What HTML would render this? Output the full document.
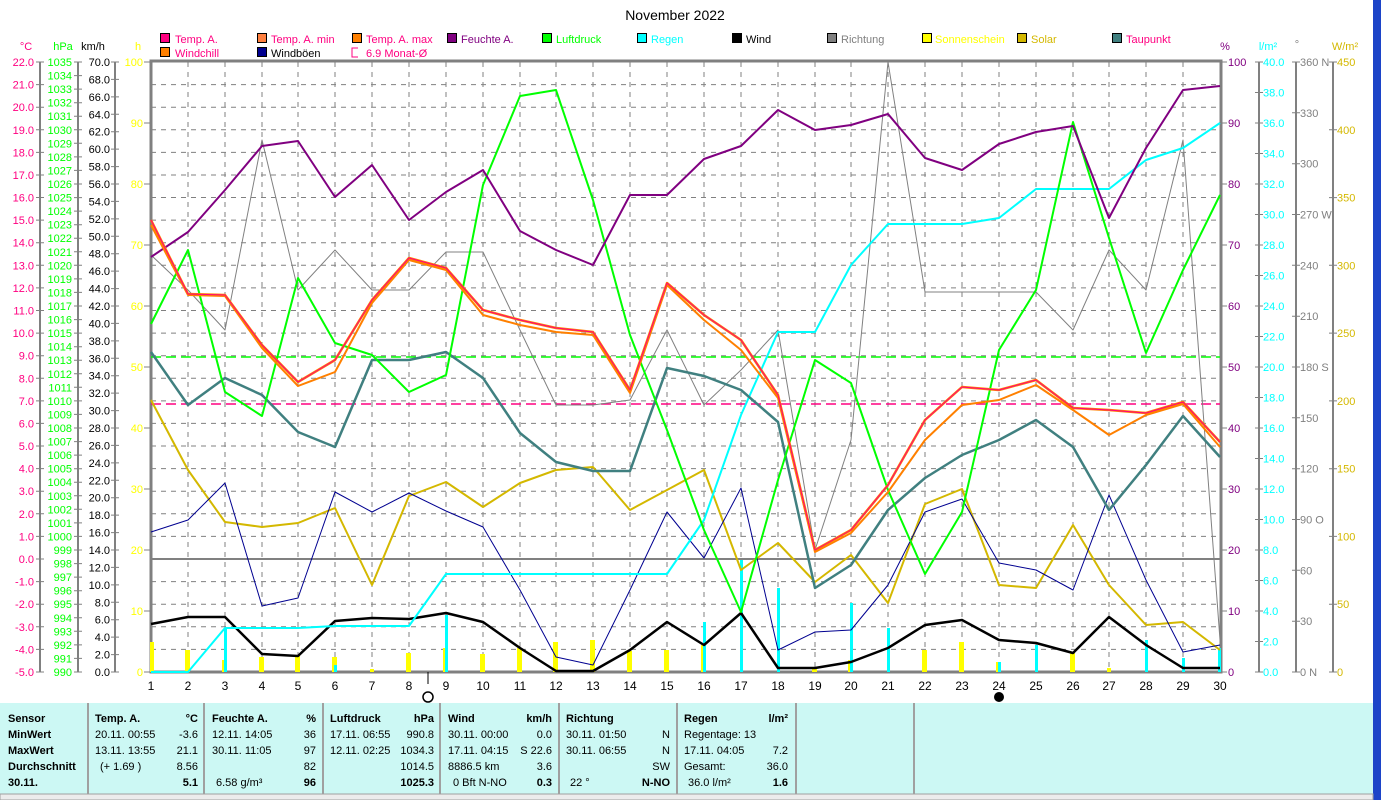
<!DOCTYPE html>
<html><head><meta charset="utf-8"><style>
body{margin:0;width:1381px;height:800px;overflow:hidden;background:#fff;font-family:"Liberation Sans",sans-serif}
svg{position:absolute;left:0;top:0}
text{font-family:"Liberation Sans",sans-serif;font-size:11px}
.r{text-anchor:end}.m{text-anchor:middle}.b{font-weight:bold}
</style></head><body>
<svg width="1381" height="800" viewBox="0 0 1381 800">
<rect x="1373" y="0" width="8" height="800" fill="#1c44c8"/>
<text x="675" y="20" class="m" style="font-size:14px">November 2022</text>
<!-- legend -->
<g stroke="#000" stroke-width="1">
<rect x="160.5" y="33.5" width="9" height="9" fill="#ff0080"/><rect x="257.5" y="33.5" width="9" height="9" fill="#ff8040"/><rect x="352.5" y="33.5" width="9" height="9" fill="#ff8000"/><rect x="447.5" y="33.5" width="9" height="9" fill="#800080"/><rect x="542.5" y="33.5" width="9" height="9" fill="#00ff00"/><rect x="637.5" y="33.5" width="9" height="9" fill="#00ffff"/><rect x="732.5" y="33.5" width="9" height="9" fill="#000"/><rect x="827.5" y="33.5" width="9" height="9" fill="#808080"/><rect x="922.5" y="33.5" width="9" height="9" fill="#ffff00"/><rect x="1017.5" y="33.5" width="9" height="9" fill="#d4b800"/><rect x="1112.5" y="33.5" width="9" height="9" fill="#408080"/>
<rect x="160.5" y="47.5" width="9" height="9" fill="#ff8000"/><rect x="257.5" y="47.5" width="9" height="9" fill="#000090"/>
</g>
<path d="M358 48H352V57H358" fill="none" stroke="#ff0080"/>
<g>
<text x="175" y="43" fill="#ff0080">Temp. A.</text><text x="271" y="43" fill="#ff0080">Temp. A. min</text><text x="366" y="43" fill="#ff0080">Temp. A. max</text><text x="461" y="43" fill="#800080">Feuchte A.</text><text x="556" y="43" fill="#00ff00">Luftdruck</text><text x="651" y="43" fill="#00ffff">Regen</text><text x="746" y="43">Wind</text><text x="841" y="43" fill="#808080">Richtung</text><text x="935" y="43" fill="#ffff00">Sonnenschein</text><text x="1031" y="43" fill="#d4b800">Solar</text><text x="1126" y="43" fill="#ff0080">Taupunkt</text>
<text x="175" y="57" fill="#ff0080">Windchill</text><text x="271" y="57">Windböen</text><text x="366" y="57" fill="#ff0080">6.9 Monat-Ø</text>
</g>
<!-- axis headers -->
<text x="26" y="50" class="m" fill="#ff0080">°C</text><text x="63" y="50" class="m" fill="#00ff00">hPa</text><text x="93" y="50" class="m">km/h</text><text x="138" y="50" class="m" fill="#ffff00">h</text>
<text x="1225" y="50" class="m" fill="#800080">%</text><text x="1268" y="50" class="m" fill="#00ffff">l/m²</text><text x="1297" y="48" class="m" fill="#808080">°</text><text x="1345" y="50" class="m" fill="#d4b800">W/m²</text>
<!-- grid -->
<g stroke="#808080" stroke-width="1" stroke-dasharray="5,5">
<path d="M151 84.6H1220M151 107.2H1220M151 129.8H1220M151 152.4H1220M151 175H1220M151 197.5H1220M151 220.1H1220M151 242.7H1220M151 265.3H1220M151 287.9H1220M151 310.5H1220M151 333.1H1220M151 355.7H1220M151 378.3H1220M151 400.9H1220M151 423.4H1220M151 446H1220M151 468.6H1220M151 491.2H1220M151 513.8H1220M151 536.4H1220M151 581.6H1220M151 604.2H1220M151 626.8H1220M151 649.4H1220"/>
<path d="M188 62V672M225 62V672M262 62V672M298 62V672M335 62V672M372 62V672M409 62V672M446 62V672M483 62V672M520 62V672M556 62V672M593 62V672M630 62V672M667 62V672M704 62V672M741 62V672M778 62V672M815 62V672M851 62V672M888 62V672M925 62V672M962 62V672M999 62V672M1036 62V672M1073 62V672M1109 62V672M1146 62V672M1183 62V672"/>
</g>
<!-- axes lines -->
<g stroke="#808080" stroke-width="2" fill="none">
<path d="M40 62V672M78 62V672M115 62V672M1259 62V672M1296 62V672M1333 62V672"/>
<path d="M151 61H1221V672H151Z" stroke-width="3"/>
<path d="M151 559H1220" stroke-width="2"/>
</g>
<!-- tick marks -->
<g stroke="#808080" stroke-width="1">
<path d="M36 62h8M36 84.6h8M36 107.2h8M36 129.8h8M36 152.4h8M36 175h8M36 197.5h8M36 220.1h8M36 242.7h8M36 265.3h8M36 287.9h8M36 310.5h8M36 333.1h8M36 355.7h8M36 378.3h8M36 400.9h8M36 423.4h8M36 446h8M36 468.6h8M36 491.2h8M36 513.8h8M36 536.4h8M36 559h8M36 581.6h8M36 604.2h8M36 626.8h8M36 649.4h8M36 672h8"/>
<path d="M74 62h8M74 75.6h8M74 89.1h8M74 102.7h8M74 116.2h8M74 129.8h8M74 143.3h8M74 156.9h8M74 170.4h8M74 184h8M74 197.6h8M74 211.1h8M74 224.7h8M74 238.2h8M74 251.8h8M74 265.3h8M74 278.9h8M74 292.4h8M74 306h8M74 319.6h8M74 333.1h8M74 346.7h8M74 360.2h8M74 373.8h8M74 387.3h8M74 400.9h8M74 414.4h8M74 428h8M74 441.6h8M74 455.1h8M74 468.7h8M74 482.2h8M74 495.8h8M74 509.3h8M74 522.9h8M74 536.4h8M74 550h8M74 563.6h8M74 577.1h8M74 590.7h8M74 604.2h8M74 617.8h8M74 631.3h8M74 644.9h8M74 658.4h8M74 672h8"/>
<path d="M111 62h8M111 79.4h8M111 96.9h8M111 114.3h8M111 131.7h8M111 149.1h8M111 166.6h8M111 184h8M111 201.4h8M111 218.9h8M111 236.3h8M111 253.7h8M111 271.1h8M111 288.6h8M111 306h8M111 323.4h8M111 340.9h8M111 358.3h8M111 375.7h8M111 393.1h8M111 410.6h8M111 428h8M111 445.4h8M111 462.9h8M111 480.3h8M111 497.7h8M111 515.1h8M111 532.6h8M111 550h8M111 567.4h8M111 584.9h8M111 602.3h8M111 619.7h8M111 637.1h8M111 654.6h8M111 672h8"/>
<path d="M144 62h7M144 123h7M144 184h7M144 245h7M144 306h7M144 367h7M144 428h7M144 489h7M144 550h7M144 611h7M144 672h7"/>
<path d="M1221 62h6M1221 123h6M1221 184h6M1221 245h6M1221 306h6M1221 367h6M1221 428h6M1221 489h6M1221 550h6M1221 611h6M1221 672h6"/>
<path d="M1255 62h8M1255 92.5h8M1255 123h8M1255 153.5h8M1255 184h8M1255 214.5h8M1255 245h8M1255 275.5h8M1255 306h8M1255 336.5h8M1255 367h8M1255 397.5h8M1255 428h8M1255 458.5h8M1255 489h8M1255 519.5h8M1255 550h8M1255 580.5h8M1255 611h8M1255 641.5h8M1255 672h8"/>
<path d="M1292 62h8M1292 112.8h8M1292 163.7h8M1292 214.5h8M1292 265.3h8M1292 316.2h8M1292 367h8M1292 417.8h8M1292 468.7h8M1292 519.5h8M1292 570.3h8M1292 621.2h8M1292 672h8"/>
<path d="M1329 62h8M1329 129.8h8M1329 197.6h8M1329 265.3h8M1329 333.1h8M1329 400.9h8M1329 468.7h8M1329 536.4h8M1329 604.2h8M1329 672h8"/>
<path d="M428 672v12" stroke="#000"/>
</g>
<!-- left labels -->
<g fill="#ff0080">
<text x="34" y="66" class="r">22.0</text><text x="34" y="88.6" class="r">21.0</text><text x="34" y="111.2" class="r">20.0</text><text x="34" y="133.8" class="r">19.0</text><text x="34" y="156.4" class="r">18.0</text><text x="34" y="179" class="r">17.0</text><text x="34" y="201.5" class="r">16.0</text><text x="34" y="224.1" class="r">15.0</text><text x="34" y="246.7" class="r">14.0</text><text x="34" y="269.3" class="r">13.0</text><text x="34" y="291.9" class="r">12.0</text><text x="34" y="314.5" class="r">11.0</text><text x="34" y="337.1" class="r">10.0</text><text x="34" y="359.7" class="r">9.0</text><text x="34" y="382.3" class="r">8.0</text><text x="34" y="404.9" class="r">7.0</text><text x="34" y="427.4" class="r">6.0</text><text x="34" y="450" class="r">5.0</text><text x="34" y="472.6" class="r">4.0</text><text x="34" y="495.2" class="r">3.0</text><text x="34" y="517.8" class="r">2.0</text><text x="34" y="540.4" class="r">1.0</text><text x="34" y="563" class="r">0.0</text><text x="34" y="585.6" class="r">-1.0</text><text x="34" y="608.2" class="r">-2.0</text><text x="34" y="630.8" class="r">-3.0</text><text x="34" y="653.4" class="r">-4.0</text><text x="34" y="676" class="r">-5.0</text>
</g>
<g fill="#00ff00">
<text x="72" y="66" class="r">1035</text><text x="72" y="79.6" class="r">1034</text><text x="72" y="93.1" class="r">1033</text><text x="72" y="106.7" class="r">1032</text><text x="72" y="120.2" class="r">1031</text><text x="72" y="133.8" class="r">1030</text><text x="72" y="147.3" class="r">1029</text><text x="72" y="160.9" class="r">1028</text><text x="72" y="174.4" class="r">1027</text><text x="72" y="188" class="r">1026</text><text x="72" y="201.6" class="r">1025</text><text x="72" y="215.1" class="r">1024</text><text x="72" y="228.7" class="r">1023</text><text x="72" y="242.2" class="r">1022</text><text x="72" y="255.8" class="r">1021</text><text x="72" y="269.3" class="r">1020</text><text x="72" y="282.9" class="r">1019</text><text x="72" y="296.4" class="r">1018</text><text x="72" y="310" class="r">1017</text><text x="72" y="323.6" class="r">1016</text><text x="72" y="337.1" class="r">1015</text><text x="72" y="350.7" class="r">1014</text><text x="72" y="364.2" class="r">1013</text><text x="72" y="377.8" class="r">1012</text><text x="72" y="391.3" class="r">1011</text><text x="72" y="404.9" class="r">1010</text><text x="72" y="418.4" class="r">1009</text><text x="72" y="432" class="r">1008</text><text x="72" y="445.6" class="r">1007</text><text x="72" y="459.1" class="r">1006</text><text x="72" y="472.7" class="r">1005</text><text x="72" y="486.2" class="r">1004</text><text x="72" y="499.8" class="r">1003</text><text x="72" y="513.3" class="r">1002</text><text x="72" y="526.9" class="r">1001</text><text x="72" y="540.4" class="r">1000</text><text x="72" y="554" class="r">999</text><text x="72" y="567.6" class="r">998</text><text x="72" y="581.1" class="r">997</text><text x="72" y="594.7" class="r">996</text><text x="72" y="608.2" class="r">995</text><text x="72" y="621.8" class="r">994</text><text x="72" y="635.3" class="r">993</text><text x="72" y="648.9" class="r">992</text><text x="72" y="662.4" class="r">991</text><text x="72" y="676" class="r">990</text>
</g>
<g fill="#000">
<text x="110" y="66" class="r">70.0</text><text x="110" y="83.4" class="r">68.0</text><text x="110" y="100.9" class="r">66.0</text><text x="110" y="118.3" class="r">64.0</text><text x="110" y="135.7" class="r">62.0</text><text x="110" y="153.1" class="r">60.0</text><text x="110" y="170.6" class="r">58.0</text><text x="110" y="188" class="r">56.0</text><text x="110" y="205.4" class="r">54.0</text><text x="110" y="222.9" class="r">52.0</text><text x="110" y="240.3" class="r">50.0</text><text x="110" y="257.7" class="r">48.0</text><text x="110" y="275.1" class="r">46.0</text><text x="110" y="292.6" class="r">44.0</text><text x="110" y="310" class="r">42.0</text><text x="110" y="327.4" class="r">40.0</text><text x="110" y="344.9" class="r">38.0</text><text x="110" y="362.3" class="r">36.0</text><text x="110" y="379.7" class="r">34.0</text><text x="110" y="397.1" class="r">32.0</text><text x="110" y="414.6" class="r">30.0</text><text x="110" y="432" class="r">28.0</text><text x="110" y="449.4" class="r">26.0</text><text x="110" y="466.9" class="r">24.0</text><text x="110" y="484.3" class="r">22.0</text><text x="110" y="501.7" class="r">20.0</text><text x="110" y="519.1" class="r">18.0</text><text x="110" y="536.6" class="r">16.0</text><text x="110" y="554" class="r">14.0</text><text x="110" y="571.4" class="r">12.0</text><text x="110" y="588.9" class="r">10.0</text><text x="110" y="606.3" class="r">8.0</text><text x="110" y="623.7" class="r">6.0</text><text x="110" y="641.1" class="r">4.0</text><text x="110" y="658.6" class="r">2.0</text><text x="110" y="676" class="r">0.0</text>
</g>
<g fill="#ffff00">
<text x="143" y="66" class="r">100</text><text x="143" y="127" class="r">90</text><text x="143" y="188" class="r">80</text><text x="143" y="249" class="r">70</text><text x="143" y="310" class="r">60</text><text x="143" y="371" class="r">50</text><text x="143" y="432" class="r">40</text><text x="143" y="493" class="r">30</text><text x="143" y="554" class="r">20</text><text x="143" y="615" class="r">10</text><text x="143" y="676" class="r">0</text>
</g>
<!-- right labels -->
<g fill="#800080">
<text x="1228" y="66">100</text><text x="1228" y="127">90</text><text x="1228" y="188">80</text><text x="1228" y="249">70</text><text x="1228" y="310">60</text><text x="1228" y="371">50</text><text x="1228" y="432">40</text><text x="1228" y="493">30</text><text x="1228" y="554">20</text><text x="1228" y="615">10</text><text x="1228" y="676">0</text>
</g>
<g fill="#00ffff">
<text x="1263" y="66">40.0</text><text x="1263" y="96.5">38.0</text><text x="1263" y="127">36.0</text><text x="1263" y="157.5">34.0</text><text x="1263" y="188">32.0</text><text x="1263" y="218.5">30.0</text><text x="1263" y="249">28.0</text><text x="1263" y="279.5">26.0</text><text x="1263" y="310">24.0</text><text x="1263" y="340.5">22.0</text><text x="1263" y="371">20.0</text><text x="1263" y="401.5">18.0</text><text x="1263" y="432">16.0</text><text x="1263" y="462.5">14.0</text><text x="1263" y="493">12.0</text><text x="1263" y="523.5">10.0</text><text x="1263" y="554">8.0</text><text x="1263" y="584.5">6.0</text><text x="1263" y="615">4.0</text><text x="1263" y="645.5">2.0</text><text x="1263" y="676">0.0</text>
</g>
<g fill="#808080">
<text x="1300" y="66">360 N</text><text x="1300" y="116.8">330</text><text x="1300" y="167.7">300</text><text x="1300" y="218.5">270 W</text><text x="1300" y="269.3">240</text><text x="1300" y="320.2">210</text><text x="1300" y="371">180 S</text><text x="1300" y="421.8">150</text><text x="1300" y="472.7">120</text><text x="1300" y="523.5">90  O</text><text x="1300" y="574.3">60</text><text x="1300" y="625.2">30</text><text x="1300" y="676">0   N</text>
</g>
<g fill="#d4b800">
<text x="1337" y="66">450</text><text x="1337" y="133.8">400</text><text x="1337" y="201.6">350</text><text x="1337" y="269.3">300</text><text x="1337" y="337.1">250</text><text x="1337" y="404.9">200</text><text x="1337" y="472.7">150</text><text x="1337" y="540.4">100</text><text x="1337" y="608.2">50</text><text x="1337" y="676">0</text>
</g>
<!-- day labels -->
<g text-anchor="middle">
<text x="151" y="690" style="font-size:12px">1</text><text x="188" y="690" style="font-size:12px">2</text><text x="225" y="690" style="font-size:12px">3</text><text x="262" y="690" style="font-size:12px">4</text><text x="298" y="690" style="font-size:12px">5</text><text x="335" y="690" style="font-size:12px">6</text><text x="372" y="690" style="font-size:12px">7</text><text x="409" y="690" style="font-size:12px">8</text><text x="446" y="690" style="font-size:12px">9</text><text x="483" y="690" style="font-size:12px">10</text><text x="520" y="690" style="font-size:12px">11</text><text x="556" y="690" style="font-size:12px">12</text><text x="593" y="690" style="font-size:12px">13</text><text x="630" y="690" style="font-size:12px">14</text><text x="667" y="690" style="font-size:12px">15</text><text x="704" y="690" style="font-size:12px">16</text><text x="741" y="690" style="font-size:12px">17</text><text x="778" y="690" style="font-size:12px">18</text><text x="815" y="690" style="font-size:12px">19</text><text x="851" y="690" style="font-size:12px">20</text><text x="888" y="690" style="font-size:12px">21</text><text x="925" y="690" style="font-size:12px">22</text><text x="962" y="690" style="font-size:12px">23</text><text x="999" y="690" style="font-size:12px">24</text><text x="1036" y="690" style="font-size:12px">25</text><text x="1073" y="690" style="font-size:12px">26</text><text x="1109" y="690" style="font-size:12px">27</text><text x="1146" y="690" style="font-size:12px">28</text><text x="1183" y="690" style="font-size:12px">29</text><text x="1220" y="690" style="font-size:12px">30</text>
</g>
<circle cx="428" cy="697" r="5" fill="none" stroke="#000" stroke-width="1.5"/>
<circle cx="999" cy="697" r="5" fill="#000"/>
<!-- sunshine bars -->
<g fill="#ffff00">
<rect x="150" y="642" width="4" height="30"/><rect x="185" y="650" width="5" height="22"/><rect x="222" y="660" width="4" height="12"/><rect x="259" y="657" width="5" height="15"/><rect x="295" y="655" width="5" height="17"/><rect x="332" y="657" width="5" height="15"/><rect x="370" y="669" width="4" height="3"/><rect x="406" y="653" width="5" height="19"/><rect x="443" y="648" width="5" height="24"/><rect x="480" y="654" width="5" height="18"/><rect x="517" y="648" width="5" height="24"/><rect x="553" y="642" width="5" height="30"/><rect x="590" y="640" width="5" height="32"/><rect x="627" y="651" width="5" height="21"/><rect x="664" y="650" width="5" height="22"/><rect x="701" y="645" width="5" height="27"/><rect x="812" y="668" width="5" height="4"/><rect x="848" y="660" width="5" height="12"/><rect x="922" y="650" width="5" height="22"/><rect x="959" y="642" width="5" height="30"/><rect x="996" y="662" width="5" height="10"/><rect x="1070" y="652" width="5" height="20"/><rect x="1107" y="668" width="4" height="4"/>
</g>
<!-- rain bars -->
<g fill="#00ffff">
<rect x="224" y="628" width="3" height="44"/><rect x="334" y="665" width="3" height="7"/><rect x="445" y="615" width="3" height="57"/><rect x="703" y="622" width="3" height="50"/><rect x="740" y="560" width="3" height="112"/><rect x="777" y="588" width="3" height="84"/><rect x="850" y="603" width="3" height="69"/><rect x="887" y="628" width="3" height="44"/><rect x="998" y="662" width="3" height="10"/><rect x="1035" y="645" width="3" height="27"/><rect x="1145" y="640" width="3" height="32"/><rect x="1182" y="658" width="3" height="14"/><rect x="1218" y="648" width="3" height="24"/>
</g>
<!-- reference lines -->
<path d="M151 357H1220" stroke="#00ff00" stroke-width="1.5" stroke-dasharray="10,5"/>
<path d="M151 404H1220" stroke="#ff0080" stroke-width="1.5" stroke-dasharray="10,5"/>
<g fill="none" stroke-linejoin="round">
<polyline stroke="#808080" stroke-width="1" points="151,255 188,290 225,330 262,140 298,290 335,250 372,290 409,290 446,252 483,252 520,330 556,405 593,405 630,400 667,330 704,405 741,370 778,330 815,550 851,440 888,62 925,292 962,292 999,292 1036,292 1073,330 1109,250 1146,290 1183,140 1220,640"/>
<polyline stroke="#d4b800" stroke-width="2" points="151,400 188,470 225,522 262,527 298,523 335,508 372,585 409,496 446,482 483,507 520,483 556,470 593,467 630,510 667,490 704,470 741,570 778,543 815,582 851,555 888,603 925,504 962,489 999,585 1036,588 1073,525 1109,585 1146,625 1183,622 1220,650"/>
<polyline stroke="#000090" stroke-width="1" points="151,532 188,520 225,483 262,606 298,598 335,492 372,512 409,493 446,511 483,527 520,590 556,657 593,665 630,590 667,512 704,558 741,488 778,650 815,632 851,630 888,585 925,512 962,499 999,563 1036,570 1073,590 1109,495 1146,580 1183,652 1220,645"/>
<polyline stroke="#000" stroke-width="2.5" points="151,624 188,617 225,617 262,654 298,656 335,621 372,618 409,619 446,613 483,622 520,648 556,671 593,671 630,650 667,622 704,645 741,613 778,668 815,668 851,662 888,648 925,625 962,620 999,640 1036,643 1073,653 1109,617 1146,645 1183,668 1220,668"/>
<polyline stroke="#00ffff" stroke-width="2" points="151,672 188,672 225,628 262,628 298,628 335,626 372,626 409,626 446,574 483,574 520,574 556,574 593,574 630,574 667,574 704,520 741,415 778,332 815,332 851,265 888,224 925,224 962,224 999,218 1036,189 1073,189 1109,189 1146,160 1183,148 1220,123"/>
<polyline stroke="#408080" stroke-width="2.5" points="151,352 188,405 225,378 262,395 298,432 335,447 372,360 409,360 446,352 483,378 520,433 556,462 593,471 630,471 667,368 704,376 741,390 778,422 815,588 851,565 888,510 925,478 962,455 999,440 1036,420 1073,447 1109,510 1146,465 1183,416 1220,457"/>
<polyline stroke="#00ff00" stroke-width="2" points="151,324 188,250 225,392 262,416 298,278 335,343 372,355 409,392 446,375 483,185 520,96 556,90 593,200 630,335 667,430 704,530 741,612 778,480 815,360 851,383 888,490 925,574 962,512 999,350 1036,290 1073,122 1109,238 1146,353 1183,270 1220,195"/>
<polyline stroke="#800080" stroke-width="2" points="151,257 188,232 225,190 262,146 298,141 335,197 372,165 409,220 446,192 483,170 520,231 556,250 593,265 630,195 667,195 704,159 741,146 778,110 815,130 851,125 888,114 925,158 962,170 999,144 1036,132 1073,126 1109,218 1146,148 1183,90 1220,86"/>
<polyline stroke="#ff8000" stroke-width="2" points="151,225 188,295 225,296 262,348 298,386 335,372 372,303 409,260 446,270 483,315 520,325 556,332 593,335 630,393 667,285 704,320 741,350 778,398 815,552 851,533 888,492 925,440 962,405 999,400 1036,385 1073,410 1109,435 1146,415 1183,404 1220,447"/>
<polyline stroke="#ff8000" stroke-width="2.5" points="151,220 188,294 225,295 262,345 298,382 335,360 372,300 409,258 446,268 483,310 520,320 556,328 593,332 630,390 667,283 704,315 741,340 778,395 815,550 851,530 888,485 925,420 962,387 999,390 1036,380 1073,408 1109,410 1146,413 1183,402 1220,442"/>
<polyline stroke="#ff0080" stroke-width="1" points="151,220 188,294 225,295 262,345 298,382 335,360 372,300 409,258 446,268 483,310 520,320 556,328 593,332 630,390 667,283 704,315 741,340 778,395 815,550 851,530 888,485 925,420 962,387 999,390 1036,380 1073,408 1109,410 1146,413 1183,402 1220,442"/>
</g>
<!-- table -->
<rect x="0" y="703" width="1373" height="91" fill="#ccf8f4"/>
<g stroke="#a0a0a0" stroke-width="2">
<path d="M88 703V794M204 703V794M323 703V794M440 703V794M559 703V794M677 703V794M796 703V794M914 703V794"/>
</g>
<rect x="0" y="794" width="1373" height="6" fill="#ececec" stroke="#a0a0a0"/>
<g>
<text x="8" y="722" class="b">Sensor</text><text x="8" y="738" class="b">MinWert</text><text x="8" y="754" class="b">MaxWert</text><text x="8" y="770" class="b">Durchschnitt</text><text x="8" y="786" class="b">30.11.</text>
<text x="95" y="722" class="b">Temp. A.</text><text x="198" y="722" class="r b">°C</text>
<text x="95" y="738">20.11.  00:55</text><text x="198" y="738" class="r">-3.6</text>
<text x="95" y="754">13.11.  13:55</text><text x="198" y="754" class="r">21.1</text>
<text x="100" y="770">(+ 1.69 )</text><text x="198" y="770" class="r">8.56</text>
<text x="198" y="786" class="r b">5.1</text>
<text x="212" y="722" class="b">Feuchte A.</text><text x="316" y="722" class="r b">%</text>
<text x="212" y="738">12.11.  14:05</text><text x="316" y="738" class="r">36</text>
<text x="212" y="754">30.11.  11:05</text><text x="316" y="754" class="r">97</text>
<text x="316" y="770" class="r">82</text>
<text x="216" y="786">6.58 g/m³</text><text x="316" y="786" class="r b">96</text>
<text x="330" y="722" class="b">Luftdruck</text><text x="434" y="722" class="r b">hPa</text>
<text x="330" y="738">17.11.  06:55</text><text x="434" y="738" class="r">990.8</text>
<text x="330" y="754">12.11.  02:25</text><text x="434" y="754" class="r">1034.3</text>
<text x="434" y="770" class="r">1014.5</text>
<text x="434" y="786" class="r b">1025.3</text>
<text x="448" y="722" class="b">Wind</text><text x="552" y="722" class="r b">km/h</text>
<text x="448" y="738">30.11.  00:00</text><text x="552" y="738" class="r">0.0</text>
<text x="448" y="754">17.11.  04:15</text><text x="552" y="754" class="r">S 22.6</text>
<text x="448" y="770">8886.5 km</text><text x="552" y="770" class="r">3.6</text>
<text x="453" y="786">0 Bft N-NO</text><text x="552" y="786" class="r b">0.3</text>
<text x="566" y="722" class="b">Richtung</text>
<text x="566" y="738">30.11.  01:50</text><text x="670" y="738" class="r">N</text>
<text x="566" y="754">30.11.  06:55</text><text x="670" y="754" class="r">N</text>
<text x="670" y="770" class="r">SW</text>
<text x="570" y="786">22 °</text><text x="670" y="786" class="r b">N-NO</text>
<text x="684" y="722" class="b">Regen</text><text x="788" y="722" class="r b">l/m²</text>
<text x="684" y="738">Regentage: 13</text>
<text x="684" y="754">17.11.  04:05</text><text x="788" y="754" class="r">7.2</text>
<text x="684" y="770">Gesamt:</text><text x="788" y="770" class="r">36.0</text>
<text x="688" y="786">36.0 l/m²</text><text x="788" y="786" class="r b">1.6</text>
</g>
</svg>
</body></html>
